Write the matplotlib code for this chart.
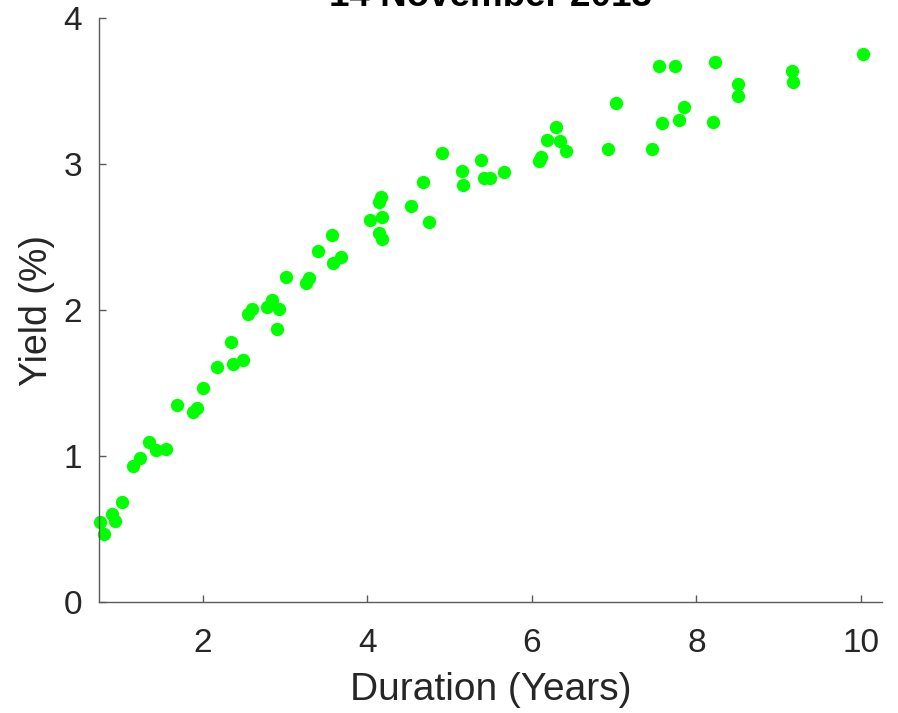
import matplotlib
matplotlib.use("Agg")
import matplotlib.pyplot as plt

# Bond durations (years) and yields (%)
duration = [0.755, 0.803, 0.900, 0.937, 1.022, 1.156, 1.241, 1.350, 1.435, 1.556,
            1.690, 1.885, 1.933, 2.000, 2.173, 2.340, 2.374, 2.492, 2.547, 2.598,
            2.780, 2.841, 2.933, 2.905, 3.011, 3.258, 3.298, 3.400, 3.570, 3.589,
            3.679, 4.029, 4.169, 4.148, 4.185, 4.139, 4.181, 4.533, 4.676, 4.756,
            4.914, 5.149, 5.162, 5.384, 5.420, 5.493, 5.660, 6.092, 6.109, 6.182,
            6.295, 6.344, 6.413, 6.931, 7.022, 7.465, 7.547, 7.580, 7.741, 7.790,
            7.847, 8.207, 8.222, 8.503, 8.507, 9.159, 9.175, 10.022]
yield_pct = [0.548, 0.466, 0.603, 0.555, 0.685, 0.932, 0.986, 1.096, 1.041, 1.048,
             1.349, 1.301, 1.329, 1.466, 1.610, 1.781, 1.630, 1.658, 1.973, 2.007,
             2.023, 2.068, 2.005, 1.873, 2.226, 2.187, 2.217, 2.406, 2.514, 2.324,
             2.361, 2.616, 2.774, 2.740, 2.637, 2.524, 2.486, 2.714, 2.879, 2.601,
             3.073, 2.952, 2.856, 3.027, 2.902, 2.902, 2.943, 3.021, 3.045, 3.164,
             3.255, 3.158, 3.091, 3.103, 3.418, 3.103, 3.671, 3.279, 3.668, 3.301,
             3.392, 3.290, 3.697, 3.546, 3.468, 3.639, 3.562, 3.753]

x_ticks = [2, 4, 6, 8, 10]
y_ticks = [0, 1, 2, 3, 4]
title = "14 November 2013"

plt.rcParams['font.family'] = ['Liberation Sans', 'DejaVu Sans']
text_color = '#262626'

fig = plt.figure(figsize=(8.98, 7.13), dpi=100)
ax = fig.add_axes([99/898, 111/713, 783/898, 584/713])

ax.plot(duration, yield_pct, 'o', color=(0, 1, 0), markersize=9.6,
        markeredgewidth=0, clip_on=False)

ax.set_xlim(0.742, 10.255)
ax.set_ylim(0, 4)
ax.set_xticks(x_ticks)
ax.set_yticks(y_ticks)

for s in ['top', 'right']:
    ax.spines[s].set_visible(False)
for s in ['left', 'bottom']:
    ax.spines[s].set_color('#5a5a5a')
    ax.spines[s].set_linewidth(1.0)

ax.tick_params(axis='both', direction='in', length=5, width=1, color='#5a5a5a',
               labelsize=24, labelcolor=text_color)
ax.tick_params(axis='x', pad=19)
ax.tick_params(axis='y', pad=12)

ax.set_xlabel('Duration (Years)', fontsize=28, color=text_color, labelpad=9)
ax.set_ylabel('Yield (%)', fontsize=27, color=text_color, labelpad=6)
ax.set_title(title, fontsize=26.5, fontweight='bold', color='black', pad=9.0)

fig.savefig('out.png', dpi=100)
